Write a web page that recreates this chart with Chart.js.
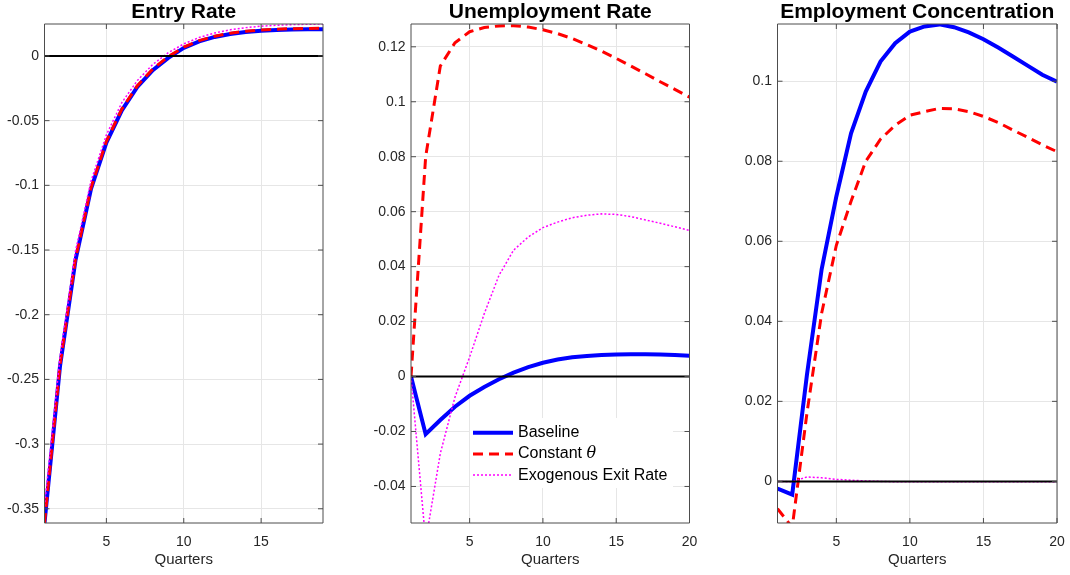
<!DOCTYPE html>
<html><head><meta charset="utf-8">
<script src="https://cdn.jsdelivr.net/npm/chart.js@4.4.1/dist/chart.umd.min.js"></script>
<style>
html,body{margin:0;padding:0;background:#fff;}
body{width:1070px;height:575px;position:relative;overflow:hidden;}
canvas{position:absolute;top:0;}
</style></head><body>
<canvas id="c1" width="340" height="575" style="left:0px"></canvas>
<canvas id="c2" width="360" height="575" style="left:340px"></canvas>
<canvas id="c3" width="370" height="575" style="left:700px"></canvas>
<script>
// ---------------- data ----------------
const quartersEntry = [1,2,3,4,5,6,7,8,9,10,11,12,13,14,15,16,17,18,19];
const quarters = [1,2,3,4,5,6,7,8,9,10,11,12,13,14,15,16,17,18,19,20];

const seriesLabels = ['Baseline', 'Constant θ', 'Exogenous Exit Rate'];
const panelTitles = ['Entry Rate', 'Unemployment Rate', 'Employment Concentration'];
const xAxisTitle = 'Quarters';

const entryBaseline = [-0.361,-0.240,-0.158,-0.103,-0.067,-0.042,-0.024,-0.011,-0.0015,0.0062,0.0113,0.0147,0.0170,0.0185,0.0195,0.0200,0.0204,0.0206,0.0207];
const entryConstTheta = [-0.361,-0.239,-0.157,-0.102,-0.066,-0.041,-0.023,-0.010,-0.0005,0.0068,0.0119,0.0153,0.0176,0.0191,0.0201,0.0207,0.0211,0.0213,0.0214];
const entryExoExit = [-0.348,-0.233,-0.151,-0.097,-0.061,-0.036,-0.019,-0.0065,0.0025,0.0093,0.0143,0.0178,0.0202,0.0219,0.0230,0.0237,0.0242,0.0245,0.0247];

const unempBaseline = [0,-0.0210,-0.0158,-0.0110,-0.0070,-0.0038,-0.0010,0.0014,0.0034,0.0050,0.0062,0.0070,0.0075,0.0078,0.0080,0.0081,0.0081,0.0080,0.0078,0.0076];
const unempConstTheta = [0,0.0800,0.1130,0.1215,0.1255,0.1270,0.1276,0.1277,0.1272,0.1262,0.1248,0.1230,0.1208,0.1184,0.1158,0.1130,0.1102,0.1073,0.1045,0.1017];
const unempExoExit = [0,-0.0600,-0.0280,-0.0075,0.0071,0.0229,0.0368,0.0460,0.0508,0.0542,0.0562,0.0578,0.0587,0.0592,0.0590,0.0582,0.0570,0.0558,0.0545,0.0532];

const concBaseline = [-0.0018,-0.0033,0.0266,0.0530,0.0712,0.0870,0.0974,0.1049,0.1095,0.1124,0.1137,0.1142,0.1135,0.1122,0.1105,0.1084,0.1062,0.1039,0.1016,0.0999];
const concConstTheta = [-0.0068,-0.0115,0.0170,0.0420,0.0590,0.0700,0.0800,0.0855,0.0890,0.0915,0.0924,0.0932,0.0931,0.0924,0.0912,0.0897,0.0878,0.0860,0.0841,0.0824];
const concExoExit = [0,-0.0001,0.0011,0.0009,0.0005,0.0003,0.0001,0,-0.0001,-0.0001,-0.0001,-0.0001,-0.0001,-0.0001,-0.0001,-0.0001,-0.0001,-0.0001,-0.0001,-0.0001];

const entryYTicks = [-0.35,-0.3,-0.25,-0.2,-0.15,-0.1,-0.05,0];
const unempYTicks = [-0.04,-0.02,0,0.02,0.04,0.06,0.08,0.1,0.12];
const concYTicks = [0,0.02,0.04,0.06,0.08,0.1];
const entryXTicks = [5,10,15];
const xTicks = [5,10,15,20];

// ---------------- styling ----------------
const FONT = '"Liberation Sans", Arial, Helvetica, sans-serif';
Chart.defaults.font.family = FONT;
const styles = [
  {borderColor:'#0000ff', borderWidth:4, borderDash:[], order:3},
  {borderColor:'#ff0000', borderWidth:3, borderDash:[10,6], order:2},
  {borderColor:'#ff00ff', borderWidth:1.5, borderDash:[2,2], order:1}
];

const fmt = v => String(parseFloat(Number(v).toFixed(4)));

const matlabFrame = {
  id: 'matlabFrame',
  afterDatasetsDraw(chart) {
    const {ctx, chartArea: a, scales: {x, y}} = chart;
    const tl = 5;
    ctx.save();
    ctx.strokeStyle = '#4d4d4d';
    ctx.lineWidth = 1;
    ctx.setLineDash([]);
    ctx.beginPath();
    y.ticks.forEach(t => {
      const py = y.getPixelForValue(t.value);
      ctx.moveTo(a.left, py); ctx.lineTo(a.left + tl, py);
      ctx.moveTo(a.right, py); ctx.lineTo(a.right - tl, py);
    });
    x.ticks.forEach(t => {
      const px = x.getPixelForValue(t.value);
      ctx.moveTo(px, a.bottom); ctx.lineTo(px, a.bottom - tl);
      ctx.moveTo(px, a.top); ctx.lineTo(px, a.top + tl);
    });
    ctx.rect(a.left, a.top, a.right - a.left, a.bottom - a.top);
    ctx.stroke();
    ctx.restore();
  }
};

const insideLegend = {
  id: 'insideLegend',
  afterDraw(chart, args, opts) {
    if (!opts || !opts.show) return;
    const {ctx, chartArea: a} = chart;
    const items = chart.data.datasets.filter(d => d.inLegend);
    const x0 = a.right - 219.5, y0 = a.bottom - 105, w = 203, h = 70;
    ctx.save();
    ctx.fillStyle = '#ffffff';
    ctx.fillRect(x0, y0, w, h);
    items.forEach((d, i) => {
      const cy = y0 + 14.7 + i * 21.2;
      ctx.strokeStyle = d.borderColor;
      ctx.lineWidth = d.borderWidth;
      ctx.setLineDash(d.borderDash || []);
      ctx.beginPath();
      ctx.moveTo(x0 + 3, cy); ctx.lineTo(x0 + 43, cy);
      ctx.stroke();
      ctx.setLineDash([]);
      ctx.fillStyle = '#000';
      ctx.textBaseline = 'middle';
      ctx.textAlign = 'left';
      const parts = d.label.split('θ');
      let tx = x0 + 48;
      ctx.font = '16px ' + FONT;
      ctx.fillText(parts[0], tx, cy);
      if (parts.length > 1) {
        tx += ctx.measureText(parts[0]).width;
        ctx.font = 'italic 16px "DejaVu Serif", "Liberation Serif", serif';
        ctx.fillText('θ', tx, cy);
      }
    });
    ctx.restore();
  }
};

function makePanel(id, canvasLeft, plotLeft, plotRight, canvasWidth, title, xs, seriesList, yMin, yMax, xMax, yTickVals, xTickVals, showLegend) {
  const datasets = [{
    label: 'zero', inLegend: false,
    data: [{x: 1, y: 0}, {x: xMax, y: 0}],
    borderColor: '#000', borderWidth: 2, pointRadius: 0, order: 0, clip: 0
  }];
  seriesList.forEach((vals, i) => {
    datasets.push(Object.assign({
      label: seriesLabels[i], inLegend: true,
      data: xs.map((q, k) => ({x: q, y: vals[k]})),
      pointRadius: 0, tension: 0, fill: false, clip: 0
    }, styles[i]));
  });
  return new Chart(document.getElementById(id), {
    type: 'line',
    data: {datasets},
    options: {
      responsive: false, animation: false,
      layout: {autoPadding: false, padding: {left: 0, right: canvasWidth - (plotRight - canvasLeft), top: 0, bottom: 0}},
      plugins: {
        legend: {display: false}, tooltip: {enabled: false},
        title: {display: true, text: title, fullSize: false, color: '#000',
          font: {size: 21, weight: 'bold', lineHeight: 0.9}, padding: {top: 3, bottom: 2.1}},
        insideLegend: {show: showLegend}
      },
      scales: {
        x: {type: 'linear', min: 1, max: xMax,
          afterFit: s => { s.height = 52; s.paddingLeft = 0; s.paddingRight = 0; },
          afterBuildTicks: s => { s.ticks = xTickVals.map(v => ({value: v})); },
          grid: {color: '#e6e6e6', lineWidth: 1, drawTicks: false},
          border: {display: false},
          ticks: {padding: 10.5, font: {size: 14}, color: '#262626', callback: v => fmt(v), maxRotation: 0},
          title: {display: true, text: xAxisTitle, color: '#262626', font: {size: 15}, padding: {top: 0, bottom: 6.5}}
        },
        y: {type: 'linear', min: yMin, max: yMax,
          afterFit: s => { s.width = plotLeft - canvasLeft; s.paddingTop = 0; s.paddingBottom = 0; },
          afterBuildTicks: s => { s.ticks = yTickVals.map(v => ({value: v})); },
          grid: {color: '#e6e6e6', lineWidth: 1, drawTicks: false},
          border: {display: false},
          ticks: {padding: 5.5, font: {size: 14}, color: '#262626', callback: v => fmt(v)}
        }
      }
    },
    plugins: [matlabFrame, insideLegend]
  });
}

makePanel('c1', 0, 44.5, 323, 340, panelTitles[0], quartersEntry,
  [entryBaseline, entryConstTheta, entryExoExit], -0.361, 0.0247, 19, entryYTicks, entryXTicks, false);
makePanel('c2', 340, 411, 689.5, 360, panelTitles[1], quarters,
  [unempBaseline, unempConstTheta, unempExoExit], -0.0533, 0.1283, 20, unempYTicks, xTicks, true);
makePanel('c3', 700, 777.5, 1057, 370, panelTitles[2], quarters,
  [concBaseline, concConstTheta, concExoExit], -0.0104, 0.1143, 20, concYTicks, xTicks, false);
</script>
</body></html>
